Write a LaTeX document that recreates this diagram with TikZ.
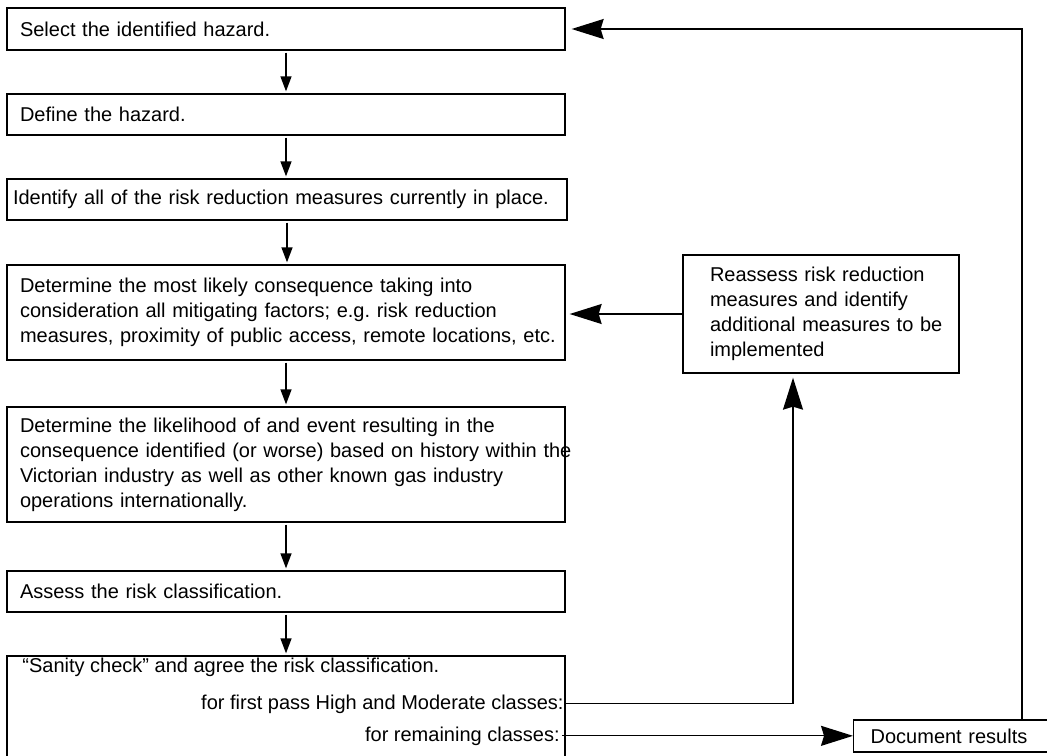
\documentclass[tikz,border=0pt]{standalone}
\usepackage{fontspec}
\setmainfont{Liberation Sans}
\usetikzlibrary{arrows.meta}

\begin{document}
\begin{tikzpicture}[x=0.5pt, y=-0.5pt,
        font=\fontsize{10}{12.5}\selectfont,
        stepbox/.style={draw, line width=0.65pt, text width=266pt, inner xsep=6.5pt, align=left, minimum height=#1},
        flow/.style={-{Triangle[length=7.5pt, width=5.5pt]}, line width=0.65pt, shorten <=1pt, shorten >=1pt},
        back/.style={-{Stealth[length=16pt, width=10pt, inset=1.5pt]}, line width=0.65pt}
    ]
    \useasboundingbox (0,0) rectangle (1047,755);

    \node[stepbox=21pt] (s1) at (286,29) {Select the identified hazard.};
    \node[stepbox=20.5pt] (s2) at (286,114.5) {Define the hazard.};
    \node[stepbox=20.5pt, text width=274pt, inner xsep=3pt] (s3) at (287,199.5) {Identify all of the risk reduction measures currently in place.};
    \node[stepbox=47.5pt] (s4) at (286,312.5) {Determine the most likely consequence taking into\\ consideration all mitigating factors; e.g.\ risk reduction\\ \mbox{measures, proximity of public access, remote locations, etc.}};
    \node[stepbox=57.5pt] (s5) at (286,464.5) {Determine the likelihood of and event resulting in the\\ \mbox{consequence identified (or worse) based on history within the}\\ Victorian industry as well as other known gas industry\\ operations internationally.};
    \node[stepbox=20.5pt] (s6) at (286,591.5) {Assess the risk classification.};
    \node[stepbox=67pt] (s7) at (286,723) {};

    \node[anchor=base west, inner sep=0pt] (s7t) at (22,672) {“Sanity check” and agree the risk classification.};
    \node[anchor=base east, inner sep=1pt] (hi) at (566,709) {for first pass High and Moderate classes:};
    \node[anchor=base east, inner sep=1pt] (lo) at (562,741) {for remaining classes:};

    \node[draw, line width=0.65pt, text width=111pt, inner xsep=13.5pt, align=left, minimum height=59pt] (re) at (821,314) {Reassess risk reduction\\ measures and identify\\ \mbox{additional measures to be}\\ implemented};
    \node[draw, line width=0.65pt, text width=95pt, inner xsep=8.5pt, align=left, minimum height=16pt, anchor=west] (doc) at (853,736) {Document results};
    \coordinate (top) at (1022,29);

    \foreach \a/\b in {s1/s2, s2/s3, s3/s4, s4/s5, s5/s6, s6/s7}
        \draw[flow] (\a.south) -- (\a.south |- \b.north);

    \draw[back, shorten >=2pt] (re.west) -- (re.west -| s4.east);
    \draw[back, shorten >=2pt] (hi.east) -| ([xshift=-14pt]re.south);
    \draw[back] (lo.east) -- (lo.east -| doc.west);
    \draw[back, shorten >=3pt] (doc.north -| top) -- (top) -- (top -| s1.east);
\end{tikzpicture}
\end{document}
